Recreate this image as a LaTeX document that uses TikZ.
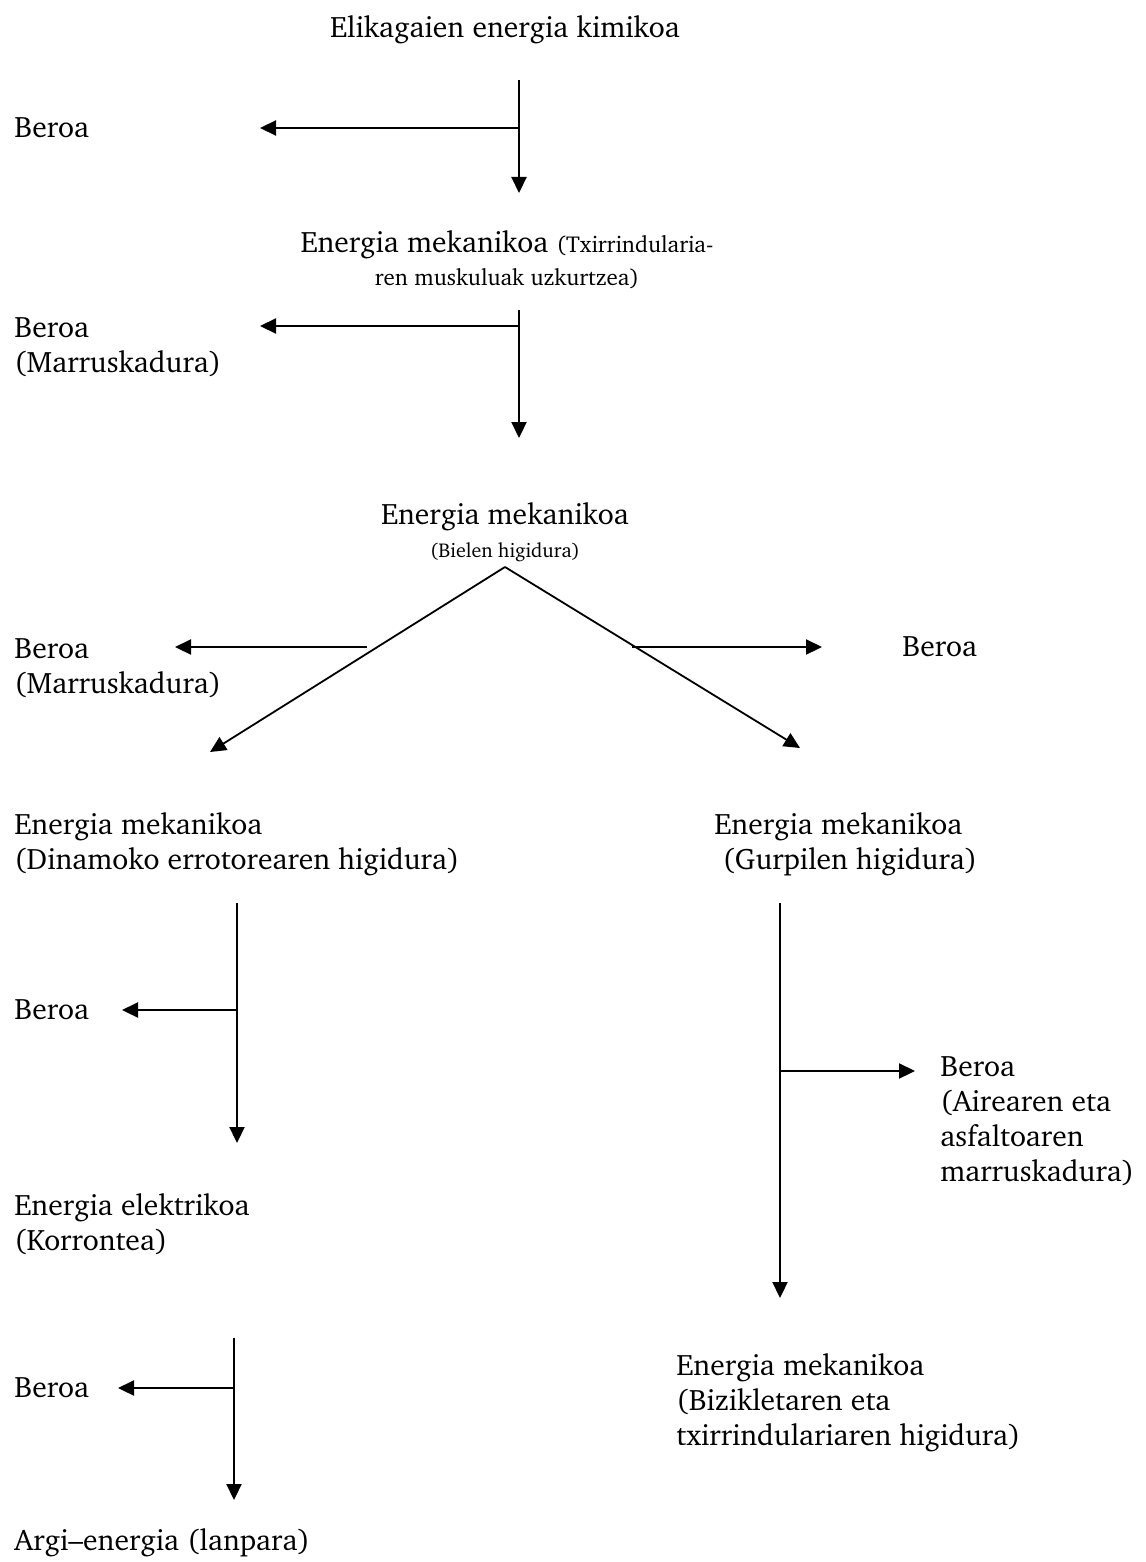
\documentclass[tikz,border=0pt]{standalone}
\usepackage[T1]{fontenc}
\usepackage{charter}
\usetikzlibrary{arrows.meta}
\tikzset{flow/.style = {-{Triangle[length=8pt,width=7.5pt]}, line width=1.1pt},
         slant/.style = {-{Triangle[length=8pt,width=7.5pt]}, line width=0.9pt},
         lbl/.style = {inner sep=0pt, align=left, font=\fontsize{14.8}{17.5}\selectfont}}
\newcommand{\smallnote}{\fontsize{11.5}{14}\selectfont}
\newcommand{\tinynote}{\fontsize{10}{12}\selectfont}

\begin{document}
\begin{tikzpicture}[x=0.5pt, y=-0.5pt]
      \useasboundingbox (0, 0) rectangle (1145, 1562);

      \node [lbl, anchor=base] (food) at (505, 38) {Elikagaien energia kimikoa};
      \node [lbl, anchor=west] (heatA) at (14, 128) {Beroa};
      \node [lbl, anchor=north, align=center] (muscle) at (507, 230)
            {Energia mekanikoa {\smallnote (Txirrindularia-}\\[-1pt]{\smallnote ren muskuluak uzkurtzea)}};
      \node [lbl, anchor=north west] (heatB) at (14, 317) {Beroa\\(Marruskadura)};
      \node [lbl, anchor=north, align=center] (crank) at (505, 502)
            {Energia mekanikoa\\[-1pt]{\tinynote (Bielen higidura)}};
      \node [lbl, anchor=north west] (heatC) at (14, 638) {Beroa\\(Marruskadura)};
      \node [lbl, anchor=west] (heatD) at (902, 647) {Beroa};
      \node [lbl, anchor=north west] (rotor) at (14, 812) {Energia mekanikoa\\(Dinamoko errotorearen higidura)};
      \node [lbl, anchor=north west] (wheel) at (714, 812) {Energia mekanikoa\\\ (Gurpilen higidura)};
      \node [lbl, anchor=west] (heatE) at (14, 1010) {Beroa};
      \node [lbl, anchor=north west] (elec) at (14, 1193) {Energia elektrikoa\\(Korrontea)};
      \node [lbl, anchor=west] (heatF) at (14, 1388) {Beroa};
      \node [lbl, anchor=base west] (light) at (14, 1550) {Argi--energia (lanpara)};
      \node [lbl, anchor=north west] (heatG) at (940, 1056) {Beroa\\(Airearen eta\\asfaltoaren\\marruskadura)};
      \node [lbl, anchor=north west] (bike) at (676, 1353) {Energia mekanikoa\\(Bizikletaren eta\\txirrindulariaren higidura)};

      \coordinate (s1) at (519, 80);   \coordinate (j1) at (519, 128);
      \coordinate (e1) at (519, 193);  \coordinate (h1) at (260, 128);
      \coordinate (s2) at (519, 310);  \coordinate (j2) at (519, 326);
      \coordinate (e2) at (519, 438);  \coordinate (h2) at (260, 326);
      \coordinate (top) at (505, 567);
      \coordinate (eL) at (210, 752);  \coordinate (eR) at (800, 748);
      \coordinate (sL) at (367, 647);  \coordinate (hL) at (175, 647);
      \coordinate (sR) at (632, 647);  \coordinate (hR) at (822, 647);
      \coordinate (s3) at (237, 903);  \coordinate (j3) at (237, 1010);
      \coordinate (e3) at (237, 1143); \coordinate (h3) at (122, 1010);
      \coordinate (s4) at (234, 1338); \coordinate (j4) at (234, 1388);
      \coordinate (e4) at (234, 1500); \coordinate (h4) at (118, 1388);
      \coordinate (s5) at (780, 903);  \coordinate (j5) at (780, 1071);
      \coordinate (e5) at (780, 1298); \coordinate (h5) at (915, 1071);

      \draw [flow] (s1) -- (e1);
      \draw [flow] (j1) -- (h1);
      \draw [flow] (s2) -- (e2);
      \draw [flow] (j2) -- (h2);
      \draw [slant] (top) -- (eL);
      \draw [slant] (top) -- (eR);
      \draw [flow] (sL) -- (hL);
      \draw [flow] (sR) -- (hR);
      \draw [flow] (s3) -- (e3);
      \draw [flow] (j3) -- (h3);
      \draw [flow] (s4) -- (e4);
      \draw [flow] (j4) -- (h4);
      \draw [flow] (s5) -- (e5);
      \draw [flow] (j5) -- (h5);
    \end{tikzpicture}
\end{document}
